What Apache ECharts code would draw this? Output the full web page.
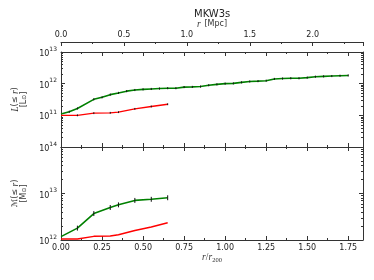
<!DOCTYPE html>
<html><head><meta charset="utf-8">
<script src="https://cdn.jsdelivr.net/npm/echarts@6/dist/echarts.min.js"></script>
<style>html,body{margin:0;padding:0;background:#fff}#c{width:374px;height:280px}</style>
</head><body><div id="c"></div>
<script>
// ---- data ----
const lumGreenR = [0,0.05,0.1,0.2,0.25,0.3,0.35,0.4,0.45,0.5,0.55,0.6,0.65,0.7,0.75,0.8,0.85,0.9,0.95,1.0,1.05,1.1,1.15,1.2,1.25,1.3,1.35,1.4,1.45,1.5,1.55,1.6,1.65,1.7,1.75];
const lumGreen  = [1.1e11,1.29e11,1.65e11,3.2e11,3.7e11,4.5e11,5.1e11,5.8e11,6.3e11,6.6e11,6.8e11,7.0e11,7.2e11,7.2e11,7.8e11,7.9e11,8.1e11,8.9e11,9.5e11,1.0e12,1.02e12,1.1e12,1.17e12,1.2e12,1.24e12,1.41e12,1.45e12,1.48e12,1.48e12,1.55e12,1.66e12,1.70e12,1.74e12,1.78e12,1.82e12];
const lumGreenErr = [0,0.08,0.08,0.08,0.08,0.08,0.08,0.08,0.08,0.08,0.08,0.08,0.08,0.08,0.08,0.08,0.08,0.08,0.08,0.08,0.08,0.08,0.08,0.08,0.08,0.08,0.08,0.08,0.08,0.08,0.08,0.08,0.08,0.08,0.08];
const lumRedR = [0,0.1,0.2,0.3,0.35,0.45,0.55,0.65];
const lumRed  = [1.0e11,1.0e11,1.17e11,1.2e11,1.26e11,1.6e11,1.9e11,2.24e11];
const lumRedErr = [0,0.07,0.07,0.07,0.07,0.07,0.07,0.07];
const massR = [0,0.1,0.2,0.3,0.35,0.45,0.55,0.65];
const massGreen = [1.18e12,1.8e12,3.7e12,5.0e12,5.7e12,7.1e12,7.5e12,8.1e12];
const massGreenErr = [0,0.13,0.13,0.13,0.13,0.13,0.13,0.13];
const massRed = [1.05e12,1.05e12,1.2e12,1.22e12,1.3e12,1.6e12,1.9e12,2.35e12];

// ---- ticks ----
const xTickStep = 0.25;
const mpcTickStep = 0.5;
const yTopMajor = [1e10,1e11,1e12,1e13];
const yTopLabels = [1e11,1e12,1e13];
const yBotMajor = [1e12,1e13,1e14];
const yBotLabels = [1e12,1e13,1e14];

function minorOf(decades){
  const out=[];
  decades.slice(0,-1).forEach(d=>{for(let k=2;k<=9;k++) out.push(d*k);});
  return out;
}

const AX = '#333';
const TXT = '#222';
const FONT = 'DejaVu Sans';
const MATH = 'Liberation Serif';

function pairs(xs, ys){ return xs.map((x,i)=>[x, ys[i]]); }
function errData(xs, ys, es){
  const out=[];
  xs.forEach((x,i)=>{ if(es[i]>0) out.push([x, ys[i]/(1+es[i]), ys[i]*(1+es[i])]); });
  return out;
}

function xAx(gridIndex, position, showLabel, extra){
  return Object.assign({
    type:'value', gridIndex, position, min:0, max:1.84, interval:xTickStep,
    axisLine:{show:true,onZero:false,lineStyle:{color:AX,width:1}},
    axisTick:{show:true,inside:true,length:4,lineStyle:{color:AX,width:1}},
    minorTick:{show:true,splitNumber:2,length:2,lineStyle:{color:AX,width:1}},
    axisLabel:{show:showLabel,color:TXT,fontFamily:FONT,fontSize:8,margin:4,showMaxLabel:false,
      formatter:v=>v.toFixed(2)},
    splitLine:{show:false}, minorSplitLine:{show:false}
  }, extra||{});
}
const supRich = {
  b:{fontSize:8,fontFamily:FONT,color:TXT,lineHeight:12,verticalAlign:'bottom'},
  s:{fontSize:6,fontFamily:FONT,color:TXT,verticalAlign:'top'}
};
function yMajor(gridIndex, position, min, max, ticks, labels, extra){
  return Object.assign({
    type:'log', logBase:10, gridIndex, position, min, max,
    axisLine:{show:true,onZero:false,lineStyle:{color:AX,width:1}},
    axisTick:{show:true,inside:true,length:4,customValues:ticks,lineStyle:{color:AX,width:1}},
    minorTick:{show:false},
    axisLabel: labels ? {show:true,customValues:labels,margin:4,
      formatter:v=>'{b|10}{s|'+Math.round(Math.log10(v))+'}', rich:supRich} : {show:false},
    splitLine:{show:false}
  }, extra||{});
}
function yMinor(gridIndex, position, min, max, ticks){
  return {
    type:'log', logBase:10, gridIndex, position, min, max,
    axisLine:{show:false,onZero:false},
    axisTick:{show:true,inside:true,length:2,customValues:ticks,lineStyle:{color:AX,width:1}},
    axisLabel:{show:false}, splitLine:{show:false}
  };
}
const NC = '#333';
const nameRich = {
  n:{fontFamily:FONT,fontSize:8,color:NC,lineHeight:9},
  i:{fontFamily:MATH,fontStyle:'italic',fontSize:9.5,color:NC,lineHeight:9},
  o:{fontFamily:FONT,fontSize:6,color:NC,lineHeight:9}
};

const chart = echarts.init(document.getElementById('c'), null, {renderer:'canvas'});
chart.setOption({
  animation:false,
  backgroundColor:'#fff',
  textStyle:{fontFamily:FONT},
  graphic:[{type:'text', left:212-18, top:9, style:{text:'MKW3s', font:'10px "DejaVu Sans"', fill:TXT}}],
  grid:[
    {left:61, right:11, top:52, height:95, outerBoundsMode:'none', containLabel:false},
    {left:61, right:11, top:147, height:93, outerBoundsMode:'none', containLabel:false}
  ],
  xAxis:[
    xAx(0,'bottom',false),
    xAx(0,'top',false),
    xAx(0,'top',true,{
      offset:10, max:2.40, interval:mpcTickStep,
      axisLabel:{show:true,color:TXT,fontFamily:FONT,fontSize:8,margin:3,showMaxLabel:false,formatter:v=>v.toFixed(1)},
      name:'{i|r} {n|[Mpc]}', nameLocation:'middle', nameGap:12,
      nameTextStyle:{rich:nameRich}
    }),
    xAx(1,'bottom',true,{
      name:'{i|r}{n|/}{i|r}{o|200}', nameLocation:'middle', nameGap:12,
      nameTextStyle:{rich:{
        n:{fontFamily:MATH,fontSize:9.5,color:NC},
        i:{fontFamily:MATH,fontStyle:'italic',fontSize:9.5,color:NC},
        o:{fontFamily:MATH,fontSize:6.5,color:NC,verticalAlign:'bottom',padding:[4,0,0,0]}
      }}
    }),
    xAx(1,'top',false)
  ],
  yAxis:[
    yMajor(0,'left',1e10,1e13,yTopMajor,yTopLabels,{
      name:'{i|L}{n|(≤ }{i|r}{n|)}\n{n|[L}{o|⊙}{n|]}', nameLocation:'middle', nameRotate:90, nameGap:23,
      nameTextStyle:{rich:nameRich}
    }),
    yMinor(0,'left',1e10,1e13,minorOf(yTopMajor)),
    yMajor(0,'right',1e10,1e13,yTopMajor,null),
    yMinor(0,'right',1e10,1e13,minorOf(yTopMajor)),
    yMajor(1,'left',1e12,1e14,yBotMajor,yBotLabels,{
      name:'{n|ℳ(≤ }{i|r}{n|)}\n{n|[M}{o|⊙}{n|]}', nameLocation:'middle', nameRotate:90, nameGap:23,
      nameTextStyle:{rich:nameRich}
    }),
    yMinor(1,'left',1e12,1e14,minorOf(yBotMajor)),
    yMajor(1,'right',1e12,1e14,yBotMajor,null),
    yMinor(1,'right',1e12,1e14,minorOf(yBotMajor))
  ],
  series:[
    {type:'line', name:'L green', xAxisIndex:0, yAxisIndex:0, data:pairs(lumGreenR,lumGreen),
      showSymbol:false, symbol:'none', lineStyle:{color:'#008000',width:1.6}, z:3},
    {type:'line', name:'L red', xAxisIndex:0, yAxisIndex:0, data:pairs(lumRedR,lumRed),
      showSymbol:false, symbol:'none', lineStyle:{color:'#ff0000',width:1.4}, z:3},
    {type:'custom', xAxisIndex:0, yAxisIndex:0, data:errData(lumGreenR,lumGreen,lumGreenErr).concat(errData(lumRedR,lumRed,lumRedErr)),
      encode:{x:0,y:[1,2]}, z:4,
      renderItem:(p,api)=>{const a=api.coord([api.value(0),api.value(1)]),b=api.coord([api.value(0),api.value(2)]);
        return {type:'line',shape:{x1:a[0],y1:a[1],x2:b[0],y2:b[1]},style:{stroke:'#111',lineWidth:1}};}},
    {type:'line', name:'M green', xAxisIndex:3, yAxisIndex:4, data:pairs(massR,massGreen),
      showSymbol:false, symbol:'none', lineStyle:{color:'#008000',width:1.6}, z:3},
    {type:'line', name:'M red', xAxisIndex:3, yAxisIndex:4, data:pairs(massR,massRed),
      showSymbol:false, symbol:'none', lineStyle:{color:'#ff0000',width:1.4}, z:3},
    {type:'custom', xAxisIndex:3, yAxisIndex:4, data:errData(massR,massGreen,massGreenErr),
      encode:{x:0,y:[1,2]}, z:4,
      renderItem:(p,api)=>{const a=api.coord([api.value(0),api.value(1)]),b=api.coord([api.value(0),api.value(2)]);
        return {type:'line',shape:{x1:a[0],y1:a[1],x2:b[0],y2:b[1]},style:{stroke:'#111',lineWidth:1}};}}
  ]
});
</script></body></html>
